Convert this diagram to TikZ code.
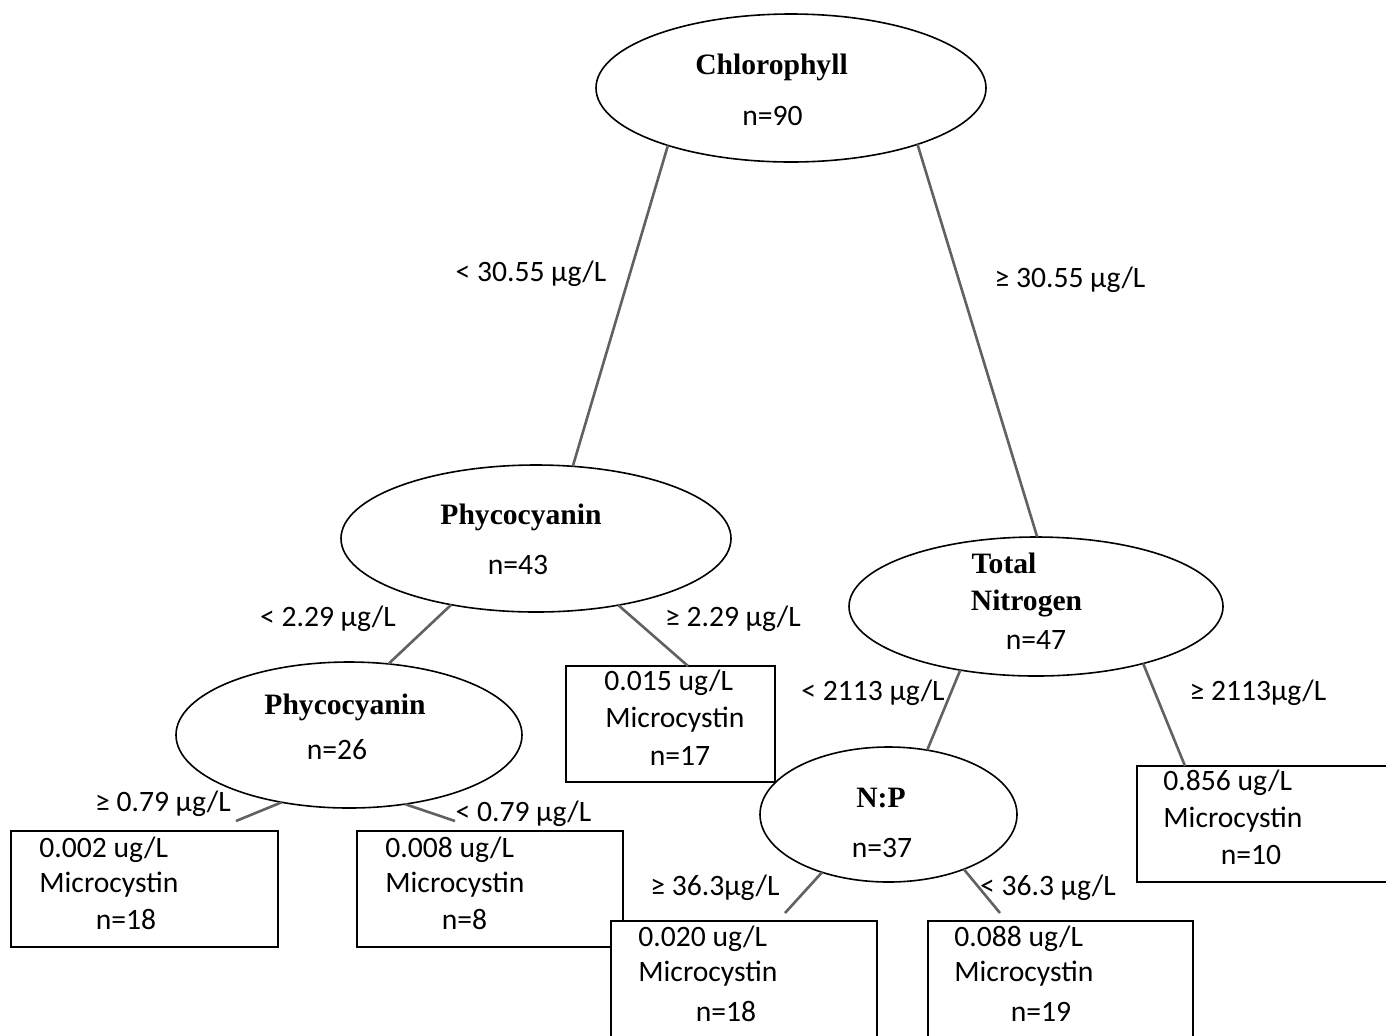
\documentclass[tikz,border=0pt]{standalone}
\usepackage{fontspec}
\setmainfont{Carlito}
\newfontfamily\headfont{Liberation Serif}
\usetikzlibrary{shapes.geometric,calc}
\begin{document}
\begin{tikzpicture}[x=0.5pt,y=-0.5pt,
  split/.style={draw=black, line width=0.8pt, ellipse, inner sep=0pt, outer sep=0pt},
  leaf/.style={draw=black, line width=0.8pt, rectangle, fill=white, inner sep=0pt, outer sep=0pt},
  head/.style={font=\headfont\bfseries\fontsize{14.8}{17}\selectfont, inner sep=0pt, anchor=base},
  txt/.style={font=\fontsize{14.8}{17}\selectfont, inner sep=0pt, anchor=base west},
  ctxt/.style={txt, anchor=base},
  link/.style={draw=black!62, line width=1.3pt}]
\clip (0,0) rectangle (1386,1035);
\fill[white] (0,0) rectangle (1386,1035);

% split nodes
\node[split, minimum width=195pt, minimum height=74pt]   (chl)  at (791,88) {};
\node[split, minimum width=195pt, minimum height=73.5pt] (phy1) at (536,538.5) {};
\node[split, minimum width=187pt, minimum height=69.5pt] (tn)   at (1036,606.5) {};
\node[split, minimum width=173pt, minimum height=73pt]   (phy2) at (349,735) {};

% leaves
\node[leaf, minimum width=104.5pt, minimum height=58pt] (b015) at (670.5,724) {};
\node[split, minimum width=128.5pt, minimum height=67.5pt] (np) at (888.5,814.5) {};
\node[leaf, minimum width=133.5pt, minimum height=58pt] (b002) at (144.5,889) {};
\node[leaf, minimum width=133pt,   minimum height=58pt] (b008) at (490,889) {};
\node[leaf, minimum width=131.5pt, minimum height=58pt] (b856) at (1268.5,824) {};
\node[leaf, minimum width=133pt,   minimum height=64.5pt] (b020) at (744,985.5) {};
\node[leaf, minimum width=132.5pt, minimum height=64.5pt] (b088) at (1060.5,985.5) {};

% split labels
\node[head] (chlA) at (771.5,74) {Chlorophyll};
\node[ctxt] (chlB) at (772.5,125.5) {n=90};
\node[head] (phy1A) at (521,524) {Phycocyanin};
\node[ctxt] (phy1B) at (518,574) {n=43};
\node[head] (tnA) at (1004,573) {Total};
\node[head] (tnB) at (1026.5,610) {Nitrogen};
\node[ctxt] (tnC) at (1036,649) {n=47};
\node[head] (phy2A) at (345,714) {Phycocyanin};
\node[ctxt] (phy2B) at (337,759) {n=26};
\node[head] (npA) at (881,807) {N:P};
\node[ctxt] (npB) at (882,857) {n=37};

% leaf labels
\node[txt]  (b015A) at (604,690) {0.015 ug/L};
\node[txt]  (b015B) at (605,727) {Microcystin};
\node[ctxt] (b015C) at (680,765) {n=17};
\node[txt]  (b002A) at (39,857) {0.002 ug/L};
\node[txt]  (b002B) at (39,892) {Microcystin};
\node[ctxt] (b002C) at (126,929) {n=18};
\node[txt]  (b008A) at (385,857) {0.008 ug/L};
\node[txt]  (b008B) at (385,892) {Microcystin};
\node[ctxt] (b008C) at (464.5,929) {n=8};
\node[txt]  (b856A) at (1163,790) {0.856 ug/L};
\node[txt]  (b856B) at (1163,827) {Microcystin};
\node[ctxt] (b856C) at (1251,864) {n=10};
\node[txt]  (b020A) at (638,946) {0.020 ug/L};
\node[txt]  (b020B) at (638,981) {Microcystin};
\node[ctxt] (b020C) at (726,1021) {n=18};
\node[txt]  (b088A) at (954,946) {0.088 ug/L};
\node[txt]  (b088B) at (954,981) {Microcystin};
\node[ctxt] (b088C) at (1041,1021) {n=19};

% branch conditions
\node[ctxt] (c1) at (531,281) {< 30.55 µg/L};
\node[ctxt] (c2) at (1070,287) {≥ 30.55 µg/L};
\node[ctxt] (c3) at (328,626) {< 2.29 µg/L};
\node[ctxt] (c4) at (733,626) {≥ 2.29 µg/L};
\node[ctxt] (c5) at (873,700) {< 2113 µg/L};
\node[ctxt] (c6) at (1258,700) {≥ 2113µg/L};
\node[ctxt] (c7) at (163,811) {≥ 0.79 µg/L};
\node[ctxt] (c8) at (523.5,821) {< 0.79 µg/L};
\node[ctxt] (c9) at (715,895) {≥ 36.3µg/L};
\node[ctxt] (c10) at (1048,895) {< 36.3 µg/L};

% free ends of the short branches
\coordinate (e002) at (236,821);
\coordinate (e008) at (455,821);
\coordinate (e020) at (785,913);
\coordinate (e088) at (1000,913);

% branches
\draw[link] (chl.205) -- (phy1.63);
\draw[link] (chl.336) -- (tn.89);
\draw[link] (phy1.218) -- (phy2.61);
\draw[link] (phy1.321) -- ($(b015.north)+(17.5,0)$);
\draw[link] (tn.220) -- (np.59);
\draw[link] (tn.332) -- ($(b856.north west)+(48,0)$);
\draw[link] (phy2.225) -- (e002);
\draw[link] (phy2.309) -- (e008);
\draw[link] (np.221) -- (e020);
\draw[link] (np.324) -- (e088);
\end{tikzpicture}
\end{document}
